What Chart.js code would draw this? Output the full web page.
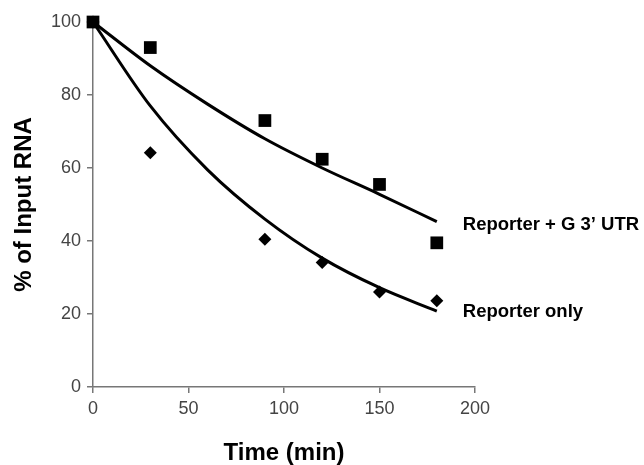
<!DOCTYPE html>
<html>
<head>
<meta charset="utf-8">
<script src="https://cdn.jsdelivr.net/npm/chart.js@4"></script>
<style>
  html, body { margin: 0; padding: 0; background: #fff; }
  #wrap { width: 644px; height: 465px; position: relative; }
</style>
</head>
<body>
<div id="wrap"><canvas id="chart"></canvas></div>
<script>
// measured time points (min)
const times = [0, 30, 90, 120, 150, 180];
const withUtr = [100, 93, 73, 62.4, 55.5, 39.5];
const reporterOnly = [100, 64.2, 40.5, 34.1, 26, 23.6];

// trend curves
const fitTimes = [0, 30, 60, 90, 120, 150, 180];
const fitUtr = [100, 88, 77.5, 68, 60, 52.8, 45.3];
const fitOnly = [100, 77, 59.5, 46, 35.3, 27.2, 20.8];

const seriesLabels = ['Reporter + G 3\u2019 UTR', 'Reporter only'];
const xTicks = [0, 50, 100, 150, 200];
const yTicks = [0, 20, 40, 60, 80, 100];

const pts = (xs, ys) => xs.map((x, i) => ({ x: x, y: ys[i] }));

// series names next to the end of each curve
const endLabels = {
  id: 'endLabels',
  afterDatasetsDraw(chart) {
    const { ctx, scales } = chart;
    ctx.save();
    ctx.font = 'bold 18.5px "Liberation Sans", Arial, sans-serif';
    ctx.fillStyle = '#000';
    ctx.textBaseline = 'middle';
    const x = scales.x.getPixelForValue(180) + 26;
    ctx.fillText(seriesLabels[0], x, scales.y.getPixelForValue(44.5));
    ctx.fillText(seriesLabels[1], x, scales.y.getPixelForValue(20.5));
    ctx.restore();
  }
};

Chart.defaults.font.family = '"Liberation Sans", Arial, sans-serif';
Chart.defaults.animation = false;

new Chart(document.getElementById('chart'), {
  type: 'scatter',
  data: {
    datasets: [
      {
        label: seriesLabels[0],
        data: pts(times, withUtr),
        pointStyle: 'rect',
        pointRadius: 9,
        pointBorderWidth: 0,
        backgroundColor: '#000',
        clip: false,
        order: 1
      },
      {
        label: seriesLabels[1],
        data: pts(times, reporterOnly),
        pointStyle: 'rectRot',
        pointRadius: 6.5,
        pointBorderWidth: 0,
        backgroundColor: '#000',
        clip: false,
        order: 2
      },
      {
        type: 'line',
        data: pts(fitTimes, fitUtr),
        showLine: true,
        borderColor: '#000',
        borderWidth: 3,
        pointRadius: 0,
        cubicInterpolationMode: 'monotone',
        clip: false,
        order: 3
      },
      {
        type: 'line',
        data: pts(fitTimes, fitOnly),
        showLine: true,
        borderColor: '#000',
        borderWidth: 3,
        pointRadius: 0,
        cubicInterpolationMode: 'monotone',
        clip: false,
        order: 3
      }
    ]
  },
  options: {
    responsive: true,
    maintainAspectRatio: false,
    layout: { padding: { top: 22, right: 169, left: 10, bottom: 0 } },
    plugins: { legend: { display: false }, tooltip: { enabled: false } },
    scales: {
      x: {
        type: 'linear',
        min: 0, max: 200,
        afterBuildTicks: (s) => { s.ticks = xTicks.map(v => ({ value: v })); },
        afterFit: (s) => { s.height = 78; },
        grid: { drawOnChartArea: false, drawTicks: true, tickLength: 6, color: '#777', lineWidth: 1.5 },
        border: { color: '#777', width: 1.5 },
        ticks: { color: '#444', font: { size: 18 }, padding: 5 },
        title: {
          display: true, text: 'Time (min)', color: '#000',
          font: { size: 24, weight: 'bold' }, padding: { top: 0, bottom: -3 }
        }
      },
      y: {
        min: 0, max: 100,
        afterBuildTicks: (s) => { s.ticks = yTicks.map(v => ({ value: v })); },
        afterFit: (s) => { s.width = 83; },
        grid: { drawOnChartArea: false, drawTicks: true, tickLength: 6, color: '#777', lineWidth: 1.5 },
        border: { color: '#777', width: 1.5 },
        ticks: { color: '#444', font: { size: 18 }, padding: 6 },
        title: {
          display: true, text: '% of Input RNA', color: '#000',
          font: { size: 24, weight: 'bold' }, padding: { top: 0, bottom: 0 }
        }
      }
    }
  },
  plugins: [endLabels]
});
</script>
</body>
</html>
